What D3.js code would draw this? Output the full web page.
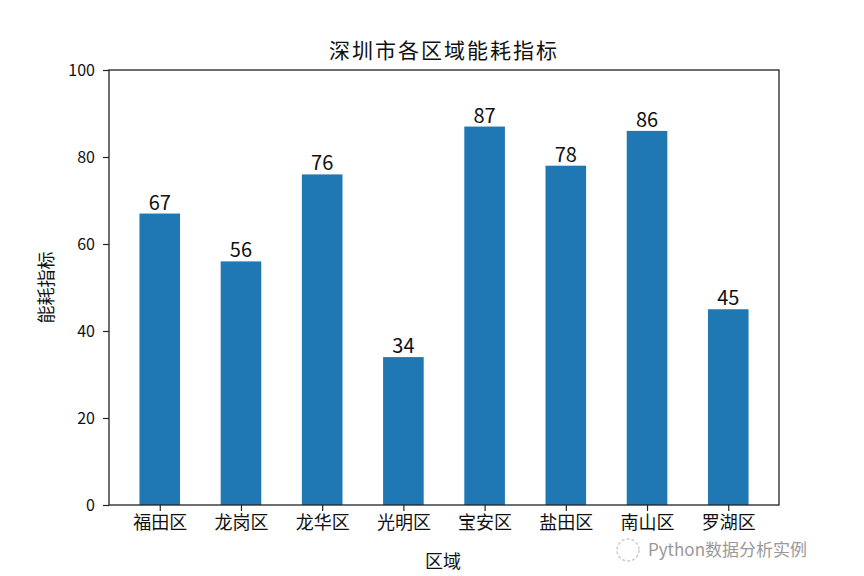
<!DOCTYPE html>
<html>
<head>
<meta charset="utf-8">
<script src="https://cdn.jsdelivr.net/npm/d3@7"></script>
<style>
  html, body { margin: 0; padding: 0; background: #fff; }
  svg { display: block; }
  text { font-family: "Noto Sans CJK SC", "DejaVu Sans", sans-serif; fill: #111; }
</style>
</head>
<body>
<svg id="chart" width="864" height="576"></svg>
<script>
const categories = ["福田区", "龙岗区", "龙华区", "光明区", "宝安区", "盐田区", "南山区", "罗湖区"];
const values = [67, 56, 76, 34, 87, 78, 86, 45];
const yTicks = [0, 20, 40, 60, 80, 100];
const title = "深圳市各区域能耗指标";
const xLabel = "区域";
const yLabel = "能耗指标";
const watermark = "Python数据分析实例";

const svg = d3.select("#chart");
const W = 864, H = 576;
const m = { left: 109, right: 864 - 779, top: 70, bottom: 576 - 505 };
const iw = W - m.left - m.right, ih = H - m.top - m.bottom;

const barWidth = 0.5;
const pad = 0.05 * (categories.length - 1 + barWidth);
const x = d3.scaleLinear()
  .domain([-barWidth / 2 - pad, categories.length - 1 + barWidth / 2 + pad])
  .range([m.left, m.left + iw]);
const y = d3.scaleLinear().domain([0, 100]).range([m.top + ih, m.top]);

// bars
svg.append("g").selectAll("rect").data(values).join("rect")
  .attr("x", (d, i) => x(i - barWidth / 2))
  .attr("width", (d, i) => x(i + barWidth / 2) - x(i - barWidth / 2))
  .attr("y", d => y(d))
  .attr("height", d => y(0) - y(d))
  .attr("fill", "#1f77b4");

// value labels
svg.append("g").selectAll("text").data(values).join("text")
  .attr("x", (d, i) => x(i))
  .attr("y", d => y(d) - 4)
  .attr("text-anchor", "middle")
  .attr("font-size", 20)
  .text(d => d);

// axes
const xAxis = d3.axisBottom(x)
  .tickValues(d3.range(categories.length))
  .tickFormat(i => categories[i])
  .tickSize(6).tickPadding(5);
const gx = svg.append("g").attr("transform", `translate(0,${m.top + ih})`).call(xAxis);
gx.select(".domain").remove();
gx.selectAll("line").attr("stroke", "#222").attr("stroke-width", 1.2);
gx.selectAll("text").attr("font-size", 18).attr("fill", "#111")
  .attr("font-family", "'Noto Sans CJK SC', sans-serif");

const yAxis = d3.axisLeft(y).tickValues(yTicks).tickSize(6).tickPadding(8);
const gy = svg.append("g").attr("transform", `translate(${m.left},0)`).call(yAxis);
gy.select(".domain").remove();
gy.selectAll("line").attr("stroke", "#222").attr("stroke-width", 1.2);
gy.selectAll("text").attr("font-size", 16).attr("fill", "#111")
  .attr("font-family", "'Noto Sans CJK SC', sans-serif");

// frame
svg.append("rect")
  .attr("x", m.left).attr("y", m.top).attr("width", iw).attr("height", ih)
  .attr("fill", "none").attr("stroke", "#222").attr("stroke-width", 1.3);

// title & labels
svg.append("text").attr("x", m.left + iw / 2).attr("y", 58)
  .attr("text-anchor", "middle").attr("font-size", 21).attr("letter-spacing", 2)
  .text(title);
svg.append("text").attr("x", 443).attr("y", 568)
  .attr("text-anchor", "middle").attr("font-size", 18).text(xLabel);
svg.append("text")
  .attr("transform", `translate(53,${m.top + ih / 2}) rotate(-90)`)
  .attr("text-anchor", "middle").attr("font-size", 18).text(yLabel);

// watermark
svg.append("circle").attr("cx", 628).attr("cy", 550).attr("r", 11)
  .attr("fill", "none").attr("stroke", "#ccc").attr("stroke-width", 1.5).attr("stroke-dasharray", "3,2");
svg.append("text").attr("x", 648).attr("y", 556)
  .attr("font-size", 17).style("fill", "#888").attr("opacity", 0.85)
  .text(watermark);
</script>
</body>
</html>
